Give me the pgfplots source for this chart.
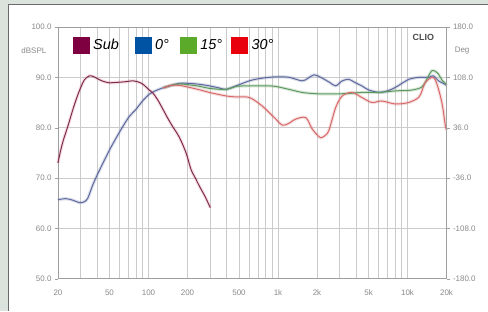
\documentclass[border=0pt]{standalone}
\usepackage{fontspec}
\setmainfont{Liberation Sans}
\usepackage{pgfplots}
\pgfplotsset{compat=1.18}
\definecolor{bgc}{HTML}{DCE3DC}
\definecolor{panelb}{HTML}{6A6A6A}
\definecolor{gridc}{HTML}{CBCBCB}
\definecolor{tickc}{HTML}{8A8A8A}
\definecolor{subline}{HTML}{7E2C55}
\definecolor{zline}{HTML}{5E6A9E}
\definecolor{fline}{HTML}{5E9A60}
\definecolor{tline}{HTML}{D86A6A}
\definecolor{subsq}{HTML}{7F0040}
\definecolor{zsq}{HTML}{0052A3}
\definecolor{fsq}{HTML}{5BAA2A}
\definecolor{tsq}{HTML}{E8000C}
\pgfplotsset{
  halo/.style={forget plot, line width=3.2bp, opacity=0.22, smooth},
  core/.style={forget plot, line width=1.0bp, smooth},
}
\begin{document}
\begin{tikzpicture}
\fill[bgc] (0,0) rectangle (488bp,311bp);
\fill[white] (8bp,0) rectangle (488bp,307bp);
\draw[panelb, line width=1bp] (8.5bp,0) -- (8.5bp,306.5bp) -- (488bp,306.5bp);
\path[use as bounding box] (0,0) rectangle (488bp,311bp);
\begin{axis}[
  at={(58bp,32bp)}, anchor=south west,
  scale only axis, width=389bp, height=252bp,
  xmode=log, xmin=20, xmax=20000, ymin=50, ymax=100,
  xtick={20,50,100,200,500,1000,2000,5000,10000,20000},
  xticklabels={20,50,100,200,500,1k,2k,5k,10k,20k},
  minor xtick={30,40,60,70,80,90,300,400,600,700,800,900,3000,4000,6000,7000,8000,9000},
  xmajorgrids, xminorgrids,
  ytick={50,60,70,80,90,100},
  ymajorgrids,
  grid style={gridc, line width=0.7bp},
  minor grid style={gridc, line width=0.7bp},
  axis line style={draw=gray!75, line width=0.8bp},
  x tick style={draw=none}, minor x tick style={draw=none},
  y tick style={draw=gray!75}, tick align=outside, major tick length=3bp,
  ytick pos=left,
  yticklabel style={/pgf/number format/fixed, /pgf/number format/fixed zerofill, /pgf/number format/precision=1},
  /pgf/number format/assume math mode=true,
  tick label style={font=\fontsize{8}{9}\selectfont, text=tickc},
  xticklabel style={yshift=-5bp},
  legend style={at={(0.030,0.929)}, anchor=west, draw=none, fill=none,
    font=\itshape\fontsize{14.5}{16}\selectfont, legend columns=4,
    /tikz/every even column/.append style={column sep=5bp},
    nodes={inner xsep=4bp, inner ysep=1bp}},
  clip=false,
]
\addlegendimage{legend image code/.code={\fill[subsq] (0bp,-8bp) rectangle (16bp,8bp);}}
\addlegendentry{Sub\kern7bp}
\addlegendimage{legend image code/.code={\fill[zsq] (0bp,-8bp) rectangle (16bp,8bp);}}
\addlegendentry{0°\kern2bp}
\addlegendimage{legend image code/.code={\fill[fsq] (0bp,-8bp) rectangle (16bp,8bp);}}
\addlegendentry{15°}
\addlegendimage{legend image code/.code={\fill[tsq] (0bp,-8bp) rectangle (16bp,8bp);}}
\addlegendentry{30°}
\pgfplotstableread{
f db
20 65.7
23 65.9
26 65.6
29.5 65.1
32 65.3
34 66
37 68.5
40 70.5
45 73.2
50.3 75.7
57 78.2
63.6 80.3
71 82.2
80.4 83.7
90 85.3
102 86.7
115 87.4
129 87.9
150 88.4
173 88.8
207 88.8
250 88.6
295 88.3
350 87.9
397 87.6
474 88.3
600 89.3
700 89.7
855 90
1000 90.1
1218 90
1534 89.3
1700 89.8
1897 90.5
2134 90
2500 89
2786 88.3
3132 89.3
3527 89.6
3900 89
4440 88.3
5000 87.5
6000 87
7000 87.3
8060 88
9300 89
10200 89.6
12180 90
14540 90
15800 90.3
17360 89.3
19540 88.6
20000 88.4
}\zero
\pgfplotstableread{
f db
130 87.9
150 88.4
173 88.7
207 88.5
250 88.2
295 87.8
397 87.6
474 88.2
600 88.3
855 88.3
1000 88.1
1218 87.6
1534 87
1830 86.8
2134 86.7
2786 86.7
3527 86.8
4440 87
6000 87
8060 87.3
10200 87.4
11480 87.6
12800 88
13700 89
14540 90.3
15400 91.3
16360 91.2
17360 90.6
18400 89.5
19540 88.8
20000 88.5
}\fifteen
\pgfplotstableread{
f db
130 87.9
150 88.4
173 88.4
207 88.0
250 87.5
295 87
397 86.3
474 86.1
600 86
755 84.3
962 81.7
1076 80.5
1200 80.8
1370 81.7
1636 82
1830 79.8
2000 78.6
2134 78
2300 78.4
2474 79.5
2786 84
3132 86.3
3716 87
4440 86
5298 85
6324 85.3
8060 84.7
10200 85
12180 86
13000 87.5
13700 89
15420 90
16360 89.5
17360 87.6
18400 85
18960 83
19540 80.5
20000 79.5
}\thirty
\pgfplotstableread{
f db
20 73.0
21 75.5
22 77.5
24 80.5
26 83.5
28 86
30 88
32 89.5
35 90.3
38 90.1
42 89.5
46 89.1
50 88.9
57 89.0
65 89.1
76 89.3
85 89.0
92 88.5
100 87.6
108 86.9
118 85.5
129 83.7
140 82
153 80.3
173 78.1
195 75.0
213 71.7
230 70
247 68.4
275 66.2
300 64.1
}\sub
\addplot[halo, zline] table[x=f, y=db] {\zero};
\addplot[halo, fline] table[x=f, y=db] {\fifteen};
\addplot[halo, tline] table[x=f, y=db] {\thirty};
\addplot[halo, tline] table[x=f, y=db] {\sub};
\addplot[core, zline] table[x=f, y=db] {\zero};
\addplot[core, fline] table[x=f, y=db] {\fifteen};
\addplot[core, tline] table[x=f, y=db] {\thirty};
\addplot[core, subline] table[x=f, y=db] {\sub};
\node[anchor=north east, font=\bfseries\fontsize{9}{10}\selectfont, text=black!70] at (rel axis cs:0.977,0.985) {CLIO};
\node[font=\fontsize{8}{9}\selectfont, text=tickc] at (rel axis cs:-0.062,0.905) {dBSPL};
\node[font=\fontsize{8}{9}\selectfont, text=tickc] at (rel axis cs:1.04,0.905) {Deg};
\end{axis}
\begin{axis}[
  at={(58bp,32bp)}, anchor=south west,
  scale only axis, width=389bp, height=252bp,
  xmode=log, xmin=20, xmax=20000, ymin=-180, ymax=180,
  axis x line=none, axis y line*=right,
  ytick={-180,-108,-36,36,108,180},
  axis line style={draw=gray!75, line width=0.8bp},
  y tick style={draw=gray!75}, tick align=outside, major tick length=3bp,
  yticklabel style={/pgf/number format/fixed, /pgf/number format/fixed zerofill, /pgf/number format/precision=1},
  /pgf/number format/assume math mode=true,
  tick label style={font=\fontsize{8}{9}\selectfont, text=tickc},
]
\end{axis}
\end{tikzpicture}
\end{document}
